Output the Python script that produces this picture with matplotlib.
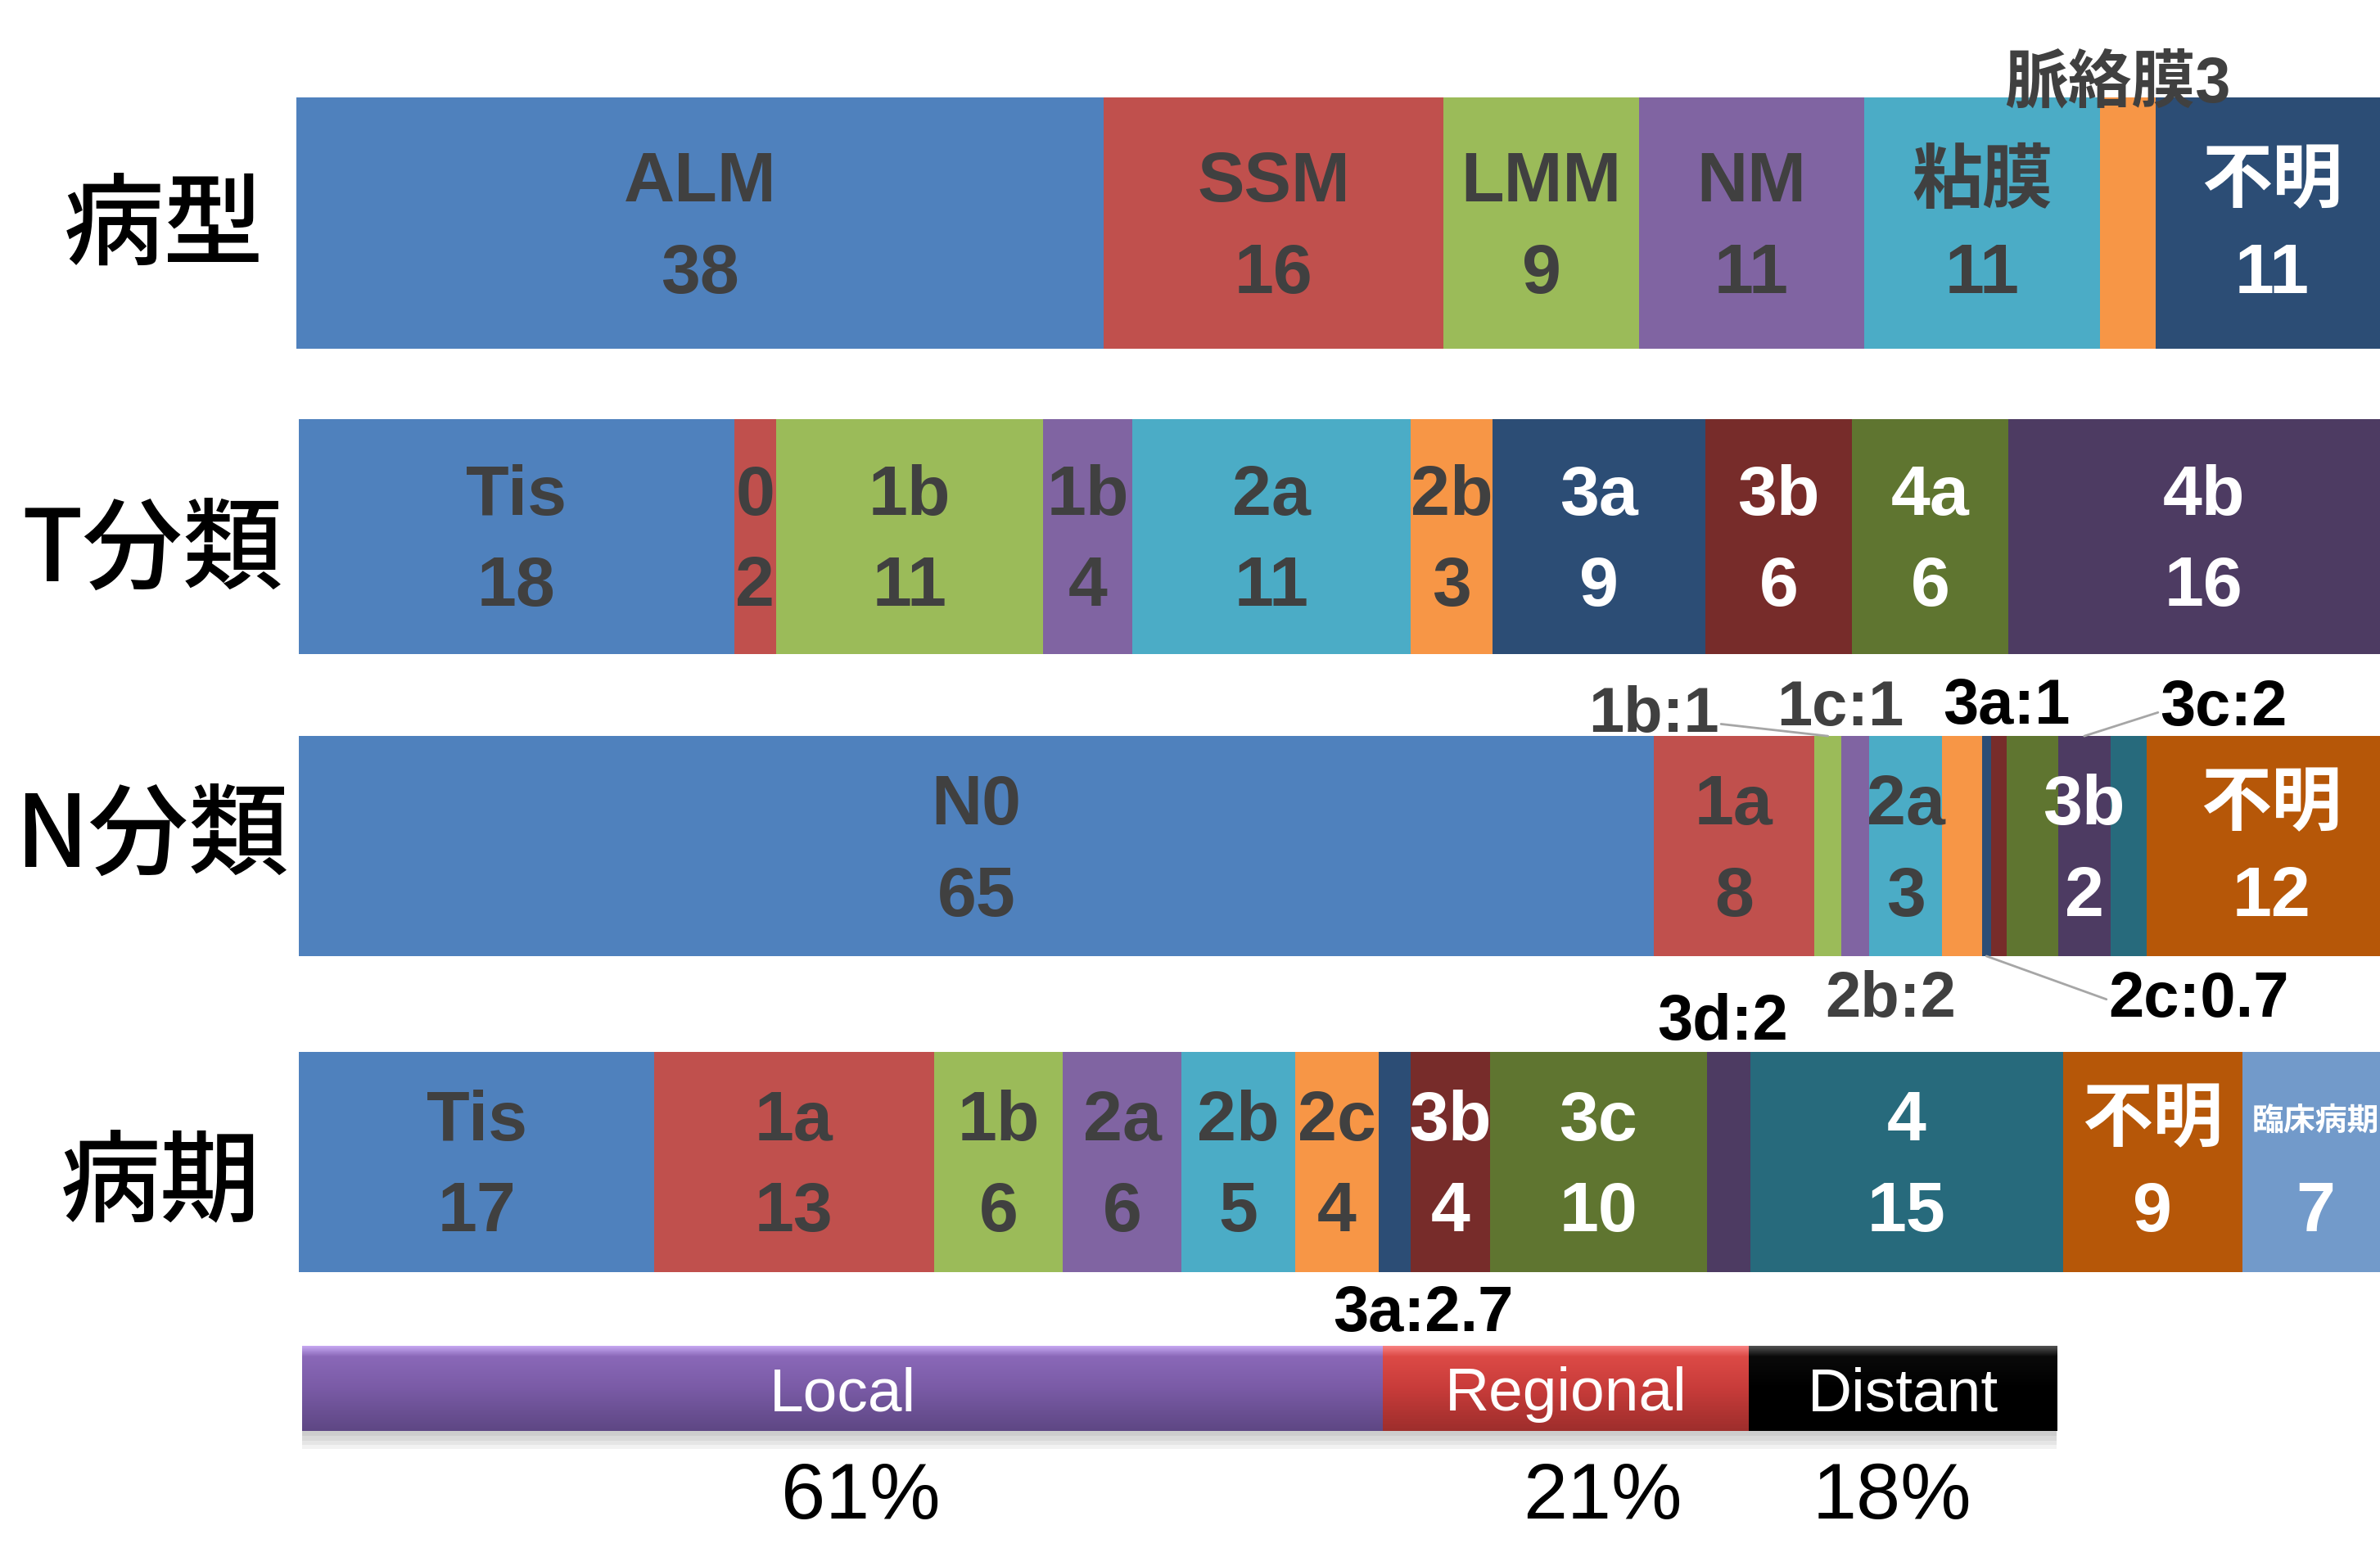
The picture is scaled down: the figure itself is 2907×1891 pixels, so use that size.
import matplotlib
matplotlib.use('Agg')
import matplotlib.pyplot as plt
import numpy as np
from matplotlib.colors import LinearSegmentedColormap

# office style palette
BLUE = '#4F81BD'; RED = '#C0504D'; GREEN = '#9BBB59'; PURPLE = '#8064A2'
CYAN = '#4BACC6'; ORANGE = '#F79646'; DBLUE = '#2C4D75'; DRED = '#772C2A'
OLIVE = '#5F7530'; DPURPLE = '#4D3B62'; TEAL = '#276A7C'; DORANGE = '#B65708'
LBLUE = '#729ACA'
PALETTE = [BLUE, RED, GREEN, PURPLE, CYAN, ORANGE, DBLUE, DRED, OLIVE, DPURPLE, TEAL, DORANGE, LBLUE]
DARK = {DBLUE, DRED, OLIVE, DPURPLE, TEAL, DORANGE, LBLUE}

# 病型
type_names = ['ALM', 'SSM', 'LMM', 'NM', '粘膜', '', '不明']
type_counts = ['38', '16', '9', '11', '11', '', '11']
type_widths = [38, 16, 9.2, 10.6, 11.1, 2.6, 11]

# T分類
t_names = ['Tis', '0', '1b', '1b', '2a', '2b', '3a', '3b', '4a', '4b']
t_counts = ['18', '2', '11', '4', '11', '3', '9', '6', '6', '16']
t_widths = [17.8, 1.74, 10.9, 3.66, 11.4, 3.35, 8.7, 6.0, 6.4, 16]

# N分類
n_names = ['N0', '1a', '', '', '2a', '', '', '', '', '3b', '', '不明']
n_counts = ['65', '8', '', '', '3', '', '', '', '', '2', '', '12']
n_widths = [64.9, 7.7, 1.3, 1.33, 3.5, 1.9, 0.43, 0.75, 2.47, 2.5, 1.73, 12]

# 病期
stage_names = ['Tis', '1a', '1b', '2a', '2b', '2c', '', '3b', '3c', '', '4', '不明', '臨床病期']
stage_counts = ['17', '13', '6', '6', '5', '4', '', '4', '10', '', '15', '9', '7']
stage_widths = [16.96, 13.33, 6.16, 5.65, 5.43, 3.99, 1.52, 3.79, 10.35, 2.07, 14.92, 8.55, 7]

spread_names = ['Local', 'Regional', 'Distant']
spread_pct = [61, 21, 18]
spread_widths = [61.6, 20.85, 17.55]

# labels outside the bars: (row, segment, text, colour, dx, dy, side, leader)
callouts = [
    (0, 5, '脈絡膜3', '#404040', -7, 12, 'top', None),
    (2, 2, '1b:1', '#404040', -115, 18, 'top', (1.0, 0.35)),
    (2, 3, '1c:1', '#404040', -10, 22, 'top', None),
    (2, 7, '3a:1', 'black', 5, 23, 'top', None),
    (2, 9, '3c:2', 'black', 92, 22, 'top', (0.0, 0.45)),
    (2, 5, '2b:2', '#404040', -47, -25, 'bottom', None),
    (2, 6, '2c:0.7', 'black', 140, -25, 'bottom', (0.0, 0.5)),
    (3, 9, '3d:2', 'black', -4, 23, 'top', None),
    (3, 6, '3a:2.7', 'black', 19, -24, 'bottom', None),
]

SW, SH = 1568, 1020          # layout measured on a 1568 wide copy
PT = 2907 / SW * 0.72        # points per measured pixel
DROP = 4                     # text ink sits a little low of the box centre

LAT = ['Liberation Sans', 'Noto Sans CJK JP']
CJK = ['Noto Sans CJK JP', 'DejaVu Sans']
NARROW = ['Liberation Sans', 'DejaVu Sans']

fig = plt.figure(figsize=(29.07, 18.91), dpi=100)

rows = [
    ('病型', type_names, type_counts, type_widths, 195, 64, 230, 98.07, (108, 147)),
    ('T分類', t_names, t_counts, t_widths, 197, 276, 431, 85.16, (100, 360)),
    ('N分類', n_names, n_counts, n_widths, 197, 485, 630, 99.7, (100, 548)),
    ('病期', stage_names, stage_counts, stage_widths, 197, 693, 838, 99.3, (106, 777)),
]

axes = []
for title, names, counts, widths, left, top, bottom, xmax, lab in rows:
    ax = fig.add_axes([left / SW, 1 - bottom / SH, 1 - left / SW, (bottom - top) / SH])
    lefts = np.concatenate([[0], np.cumsum(widths)[:-1]])
    cols = PALETTE[:len(widths)]
    ax.barh(0, widths, left=lefts, height=1, color=cols, edgecolor='none')
    ax.set_xlim(0, xmax)
    ax.set_ylim(-0.5, 0.5)
    ax.axis('off')
    for nm, ct, l, w, c in zip(names, counts, lefts, widths, cols):
        tc = 'white' if c in DARK else '#404040'
        cx = l + w / 2
        fs = 28 if len(nm) > 3 else 62
        if nm:
            ax.annotate(nm, xy=(cx, 0), xytext=(0, (30 - DROP) * PT), textcoords='offset points',
                        ha='center', va='center', fontsize=fs, fontweight='bold',
                        color=tc, family=LAT, annotation_clip=False)
        if ct:
            ax.annotate(ct, xy=(cx, 0), xytext=(0, (-30 - DROP) * PT), textcoords='offset points',
                        ha='center', va='center', fontsize=62, fontweight='bold',
                        color=tc, family=LAT, annotation_clip=False)
    fig.text(lab[0] / SW, 1 - (lab[1] + DROP) / SH, title, ha='center', va='center',
             fontsize=88, family=CJK, fontweight='medium', color='black')
    axes.append((ax, lefts, widths))

for row, seg, txt, col, dx, dy, side, leader in callouts:
    ax, lefts, widths = axes[row]
    y = 0.5 if side == 'top' else -0.5
    kw = {}
    if leader is not None:
        kw['arrowprops'] = dict(arrowstyle='-', color='#a6a6a6', lw=2,
                                shrinkA=0, shrinkB=0, relpos=leader)
    ax.annotate(txt, xy=(lefts[seg] + widths[seg] / 2, y), xytext=(dx * PT, (dy - DROP) * PT),
                textcoords='offset points', ha='center', va='center', fontsize=56,
                fontweight='bold', color=col, family=LAT, annotation_clip=False, **kw)

# stage spread bar with gradient fill
grads = {
    'Local': ['#c4a6f0', '#8a68b8', '#7a5ba6', '#5e4784'],
    'Regional': ['#f78080', '#dc4a46', '#c83c3a', '#9e2e2c'],
    'Distant': ['#505050', '#0a0a0a', '#000000', '#000000'],
}
ax5 = fig.add_axes([199 / SW, 1 - 943 / SH, (1355 - 199) / SW, (943 - 887) / SH])
slefts = np.concatenate([[0], np.cumsum(spread_widths)[:-1]])
for k in range(4):
    ax5.barh(-0.06 - 0.05 * k, spread_widths, left=slefts, height=1, color='black',
             alpha=0.05, edgecolor='none', zorder=0, clip_on=False)
bars = ax5.barh(0, spread_widths, left=slefts, height=1, color='none', edgecolor='none', zorder=1)
for nm, b, l, w in zip(spread_names, bars, slefts, spread_widths):
    cmap = LinearSegmentedColormap.from_list(nm, list(zip([0, 0.12, 0.5, 1], grads[nm])))
    g = np.linspace(0, 1, 100).reshape(-1, 1)
    im = ax5.imshow(g, extent=[l, l + w, -0.5, 0.5], cmap=cmap, aspect='auto',
                    origin='upper', zorder=2)
    im.set_clip_path(b)
    ax5.annotate(nm, xy=(l + w / 2, 0), xytext=(0, -DROP * PT), textcoords='offset points',
                 ha='center', va='center', color='white', fontsize=54, family=NARROW,
                 zorder=3)
ax5.set_xlim(0, 100)
ax5.set_ylim(-0.5, 0.5)
ax5.axis('off')

pct_dx = [12, 24, -7]
for p, l, w, dx in zip(spread_pct, slefts, spread_widths, pct_dx):
    ax5.annotate(f'{p}%', xy=(l + w / 2, 0), xytext=(dx * PT, (-68 - DROP) * PT),
                 textcoords='offset points', ha='center', va='center', fontsize=70,
                 family=NARROW, color='black', annotation_clip=False)

fig.savefig('out.png', dpi=100)
